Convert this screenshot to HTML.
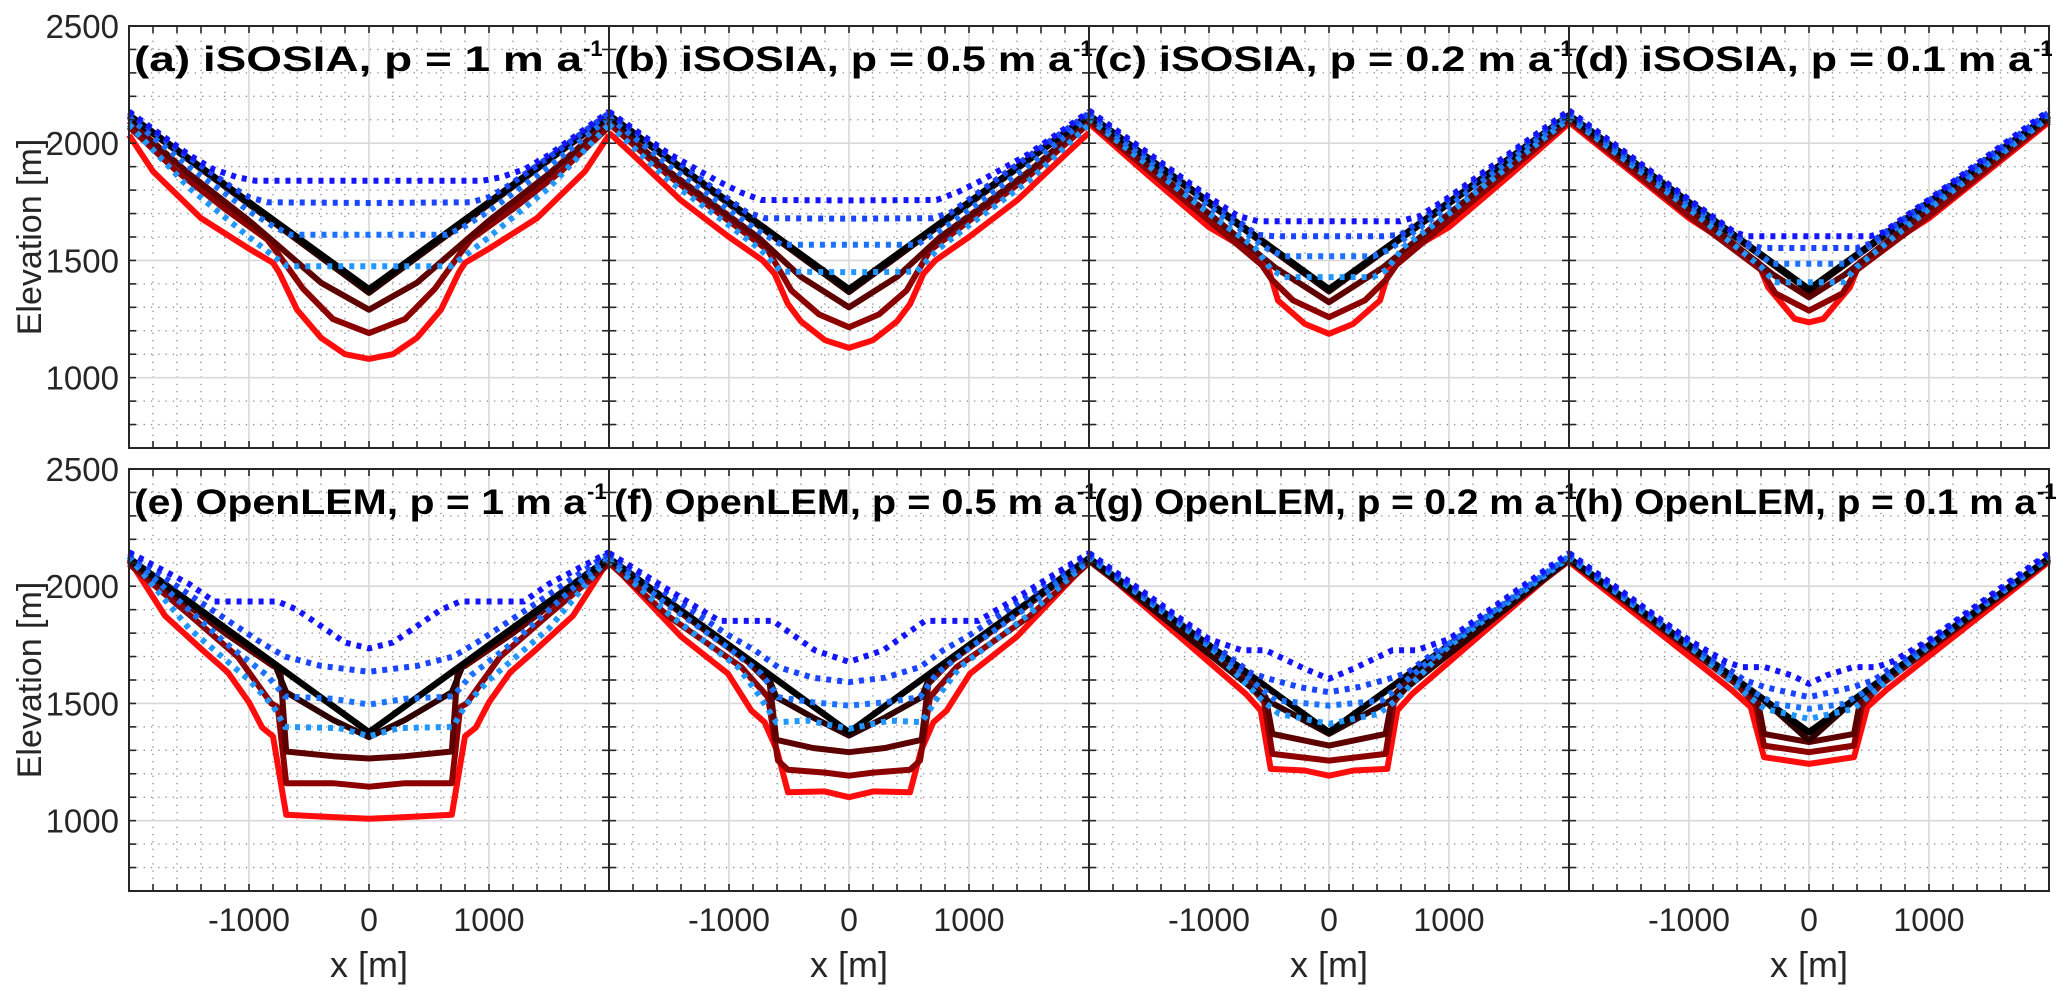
<!DOCTYPE html>
<html><head><meta charset="utf-8"><style>
html,body{margin:0;padding:0;background:#fff;}
svg{display:block;font-family:"Liberation Sans",Arial,sans-serif;}
</style></head><body>
<svg id="chart" width="2067" height="998" viewBox="0 0 2067 998" xmlns="http://www.w3.org/2000/svg"></svg>
<script>
// ---- data: half profiles [x (m), elevation (m)], mirrored about x=0 ----
const panelTitles = ["(a) iSOSIA, p = 1 m a","(b) iSOSIA, p = 0.5 m a","(c) iSOSIA, p = 0.2 m a","(d) iSOSIA, p = 0.1 m a",
  "(e) OpenLEM, p = 1 m a","(f) OpenLEM, p = 0.5 m a","(g) OpenLEM, p = 0.2 m a","(h) OpenLEM, p = 0.1 m a"];
const yTicks = [1000,1500,2000,2500];
const xTicks = [-1000,0,1000];
const blackLine = [[0,1377],[2000,2120]];

const A_s1=[[0,1362],[2000,2116]];
const A_s2=[[0,1290],[400,1405],[840,1600],[1000,1670],[1500,1870],[2000,2095]];
const A_s3=[[0,1190],[300,1250],[550,1380],[760,1530],[850,1590],[1200,1720],[1600,1880],[2000,2070]];
const A_red=[[0,1080],[200,1100],[400,1170],[600,1290],[750,1450],[800,1490],[1000,1550],[1400,1680],[1800,1880],[2000,2035]];
const A_d1=[[0,1840],[950,1840],[1100,1855],[1300,1890],[1500,1950],[2000,2135]];
const A_d2=[[0,1745],[850,1748],[1000,1770],[1150,1815],[1500,1940],[2000,2128]];
const A_d3=[[0,1610],[650,1610],[780,1640],[1000,1710],[1500,1900],[2000,2110]];
const A_d4=[[0,1475],[680,1475],[800,1520],[1000,1600],[1500,1810],[2000,2080]];

const B_s1=[[0,1365],[2000,2116]];
const B_s2=[[0,1300],[400,1430],[760,1600],[1000,1690],[1500,1880],[2000,2100]];
const B_s3=[[0,1215],[250,1270],[480,1372],[675,1543],[900,1630],[1500,1860],[2000,2085]];
const B_red=[[0,1127],[200,1160],[400,1240],[510,1315],[620,1443],[720,1500],[1000,1600],[1400,1756],[1800,1950],[2000,2045]];
const B_d1=[[0,1756],[730,1758],[900,1790],[1100,1840],[1500,1955],[2000,2135]];
const B_d2=[[0,1678],[700,1680],[850,1705],[1500,1945],[2000,2128]];
const B_d3=[[0,1567],[564,1567],[760,1628],[1000,1715],[1500,1905],[2000,2110]];
const B_d4=[[0,1450],[564,1452],[730,1543],[1000,1650],[1500,1840],[2000,2080]];

const C_s1=[[0,1368],[2000,2116]];
const C_s2=[[0,1322],[450,1470],[1000,1700],[2000,2105]];
const C_s3=[[0,1258],[300,1330],[480,1420],[560,1480],[1000,1670],[2000,2095]];
const C_red=[[0,1187],[200,1229],[425,1329],[508,1471],[620,1528],[1000,1642],[1500,1860],[2000,2085]];
const C_d1=[[0,1667],[590,1667],[760,1690],[1000,1770],[2000,2140]];
const C_d2=[[0,1603],[450,1603],[600,1610],[1000,1760],[2000,2132]];
const C_d3=[[0,1518],[370,1518],[500,1545],[1000,1730],[2000,2118]];
const C_d4=[[0,1429],[370,1429],[480,1460],[620,1557],[1000,1700],[2000,2105]];

const D_s1=[[0,1370],[2000,2117]];
const D_s2=[[0,1343],[300,1440],[1000,1720],[2000,2108]];
const D_s3=[[0,1286],[280,1360],[400,1460],[1000,1690],[2000,2100]];
const D_red=[[0,1236],[120,1251],[342,1386],[425,1493],[536,1528],[1000,1680],[2000,2090]];
const D_d1=[[0,1603],[508,1603],[620,1620],[1000,1760],[2000,2140]];
const D_d2=[[0,1553],[397,1553],[500,1570],[1000,1755],[2000,2132]];
const D_d3=[[0,1486],[314,1486],[420,1530],[1000,1740],[2000,2120]];
const D_d4=[[0,1407],[286,1407],[397,1471],[1000,1720],[2000,2110]];

const E_s1=[[0,1356],[300,1430],[690,1548],[786,1668],[2000,2115]];
const E_s2=[[0,1265],[300,1275],[690,1295],[740,1650],[800,1660],[1200,1800],[2000,2105]];
const E_s3=[[0,1145],[300,1160],[690,1160],[760,1484],[814,1500],[1092,1698],[1500,1880],[2000,2095]];
const E_red=[[0,1008],[300,1015],[690,1025],[800,1360],[890,1397],[1000,1505],[1175,1632],[1397,1732],[1700,1874],[1950,2074],[2000,2110]];
const E_d1=[[0,1735],[200,1760],[400,1830],[600,1900],[760,1935],[1290,1935],[1500,2010],[2000,2145]];
const E_d2=[[0,1635],[400,1660],[700,1700],[900,1760],[1400,1930],[2000,2140]];
const E_d3=[[0,1495],[300,1520],[700,1530],[850,1620],[1200,1760],[2000,2130]];
const E_d4=[[0,1360],[250,1395],[700,1400],[800,1490],[1000,1600],[1500,1820],[2000,2125]];

const F_s1=[[0,1363],[300,1440],[606,1527],[689,1634],[2000,2115]];
const F_s2=[[0,1292],[300,1310],[606,1345],[661,1584],[842,1677],[2000,2110]];
const F_s3=[[0,1192],[200,1205],[508,1217],[592,1256],[675,1527],[897,1655],[1500,1870],[2000,2100]];
const F_red=[[0,1100],[203,1125],[508,1121],[600,1299],[703,1420],[814,1470],[1008,1627],[1397,1784],[1967,2090],[2000,2110]];
const F_d1=[[0,1677],[286,1727],[633,1852],[1078,1852],[1300,1920],[2000,2142]];
const F_d2=[[0,1591],[300,1610],[592,1655],[786,1727],[1000,1790],[1500,1960],[2000,2135]];
const F_d3=[[0,1491],[300,1505],[592,1527],[730,1627],[1000,1735],[1500,1915],[2000,2122]];
const F_d4=[[0,1392],[342,1427],[606,1420],[758,1541],[925,1655],[1500,1880],[2000,2110]];

const G_s1=[[0,1370],[514,1513],[2000,2117]];
const G_s2=[[0,1320],[472,1370],[528,1527],[700,1620],[2000,2112]];
const G_s3=[[0,1256],[472,1285],[542,1506],[700,1600],[2000,2108]];
const G_red=[[0,1192],[203,1214],[486,1221],[569,1470],[694,1541],[1967,2104],[2000,2110]];
const G_d1=[[0,1605],[203,1648],[528,1727],[730,1727],[1000,1775],[2000,2142]];
const G_d2=[[0,1548],[250,1570],[500,1605],[650,1630],[1000,1765],[2000,2135]];
const G_d3=[[0,1491],[444,1513],[583,1570],[1000,1755],[2000,2128]];
const G_d4=[[0,1413],[417,1456],[556,1513],[1000,1745],[2000,2122]];

const H_s1=[[0,1342],[390,1520],[2000,2117]];
const H_s2=[[0,1335],[375,1370],[430,1520],[2000,2114]];
const H_s3=[[0,1292],[375,1320],[440,1490],[600,1580],[2000,2110]];
const H_red=[[0,1242],[375,1271],[486,1484],[650,1560],[2000,2105]];
const H_d1=[[0,1584],[147,1620],[370,1655],[564,1655],[700,1680],[1000,1770],[2000,2142]];
const H_d2=[[0,1527],[370,1570],[540,1600],[1000,1765],[2000,2135]];
const H_d3=[[0,1477],[286,1498],[450,1545],[1000,1755],[2000,2128]];
const H_d4=[[0,1434],[370,1477],[500,1530],[1000,1745],[2000,2122]];

const panelSolids = [
  [A_s1,A_s2,A_s3,A_red],[B_s1,B_s2,B_s3,B_red],[C_s1,C_s2,C_s3,C_red],[D_s1,D_s2,D_s3,D_red],
  [E_s1,E_s2,E_s3,E_red],[F_s1,F_s2,F_s3,F_red],[G_s1,G_s2,G_s3,G_red],[H_s1,H_s2,H_s3,H_red]];
const panelDotted = [
  [A_d1,A_d2,A_d3,A_d4],[B_d1,B_d2,B_d3,B_d4],[C_d1,C_d2,C_d3,C_d4],[D_d1,D_d2,D_d3,D_d4],
  [E_d1,E_d2,E_d3,E_d4],[F_d1,F_d2,F_d3,F_d4],[G_d1,G_d2,G_d3,G_d4],[H_d1,H_d2,H_d3,H_d4]];

// ---- layout ----
const NS="http://www.w3.org/2000/svg";
const svg=document.getElementById('chart');
const panelLeft=[129,609,1089,1569], panelW=480;
const rowTop=[26,469], panelH=422;
const XMIN=-2000,XMAX=2000,YMIN=700,YMAX=2500;
const solidColors=['#000000','#2e0000','#5c0000','#8c0000','#ff0d0d'];
const dotColors=['#1414ff','#1a45ff','#1c72ff','#2196ff'];
const titleWidth=[448,458,458,458,452,462,462,462];

function mk(tag,attrs,parent){const e=document.createElementNS(NS,tag);for(const k in attrs)e.setAttribute(k,attrs[k]);(parent||svg).appendChild(e);return e;}

for(let p=0;p<8;p++){
  const col=p%4,row=Math.floor(p/4);
  const L=panelLeft[col],T=rowTop[row];
  const sx=x=>L+(x-XMIN)/(XMAX-XMIN)*panelW;
  const sy=y=>T+(YMAX-y)/(YMAX-YMIN)*panelH;
  const g=mk('g',{});
  
  
  for(let x=-1800;x<=1800;x+=200){ if(x%1000===0)continue;
    const l=mk('line',{x1:sx(x),x2:sx(x),y1:T,y2:T+panelH,stroke:'#8a8a8a','stroke-width':1.3,'stroke-dasharray':'1.3 6'},g);
     }
  for(let y=800;y<2500;y+=100){ if(y%500===0)continue;
    const l=mk('line',{x1:L,x2:L+panelW,y1:sy(y),y2:sy(y),stroke:'#8a8a8a','stroke-width':1.3,'stroke-dasharray':'1.3 6'},g);
     }
  for(const x of xTicks){const l=mk('line',{x1:sx(x),x2:sx(x),y1:T,y2:T+panelH,stroke:'#d8d8d8','stroke-width':1.6},g);
     }
  for(const y of yTicks){const l=mk('line',{x1:L,x2:L+panelW,y1:sy(y),y2:sy(y),stroke:'#d8d8d8','stroke-width':1.6},g);
     }
  const mirror=pts=>{const a=pts.slice().sort((u,v)=>u[0]-v[0]);const left=a.filter(q=>q[0]>0).map(q=>[-q[0],q[1]]).reverse();return left.concat(a);};
  const pathOf=pts=>mirror(pts).map((q,i)=>(i?'L':'M')+sx(q[0]).toFixed(1)+','+sy(q[1]).toFixed(1)).join('');
  const solids=[blackLine].concat(panelSolids[p]);
  for(let i=solids.length-1;i>=0;i--){
    const s=mk('path',{d:pathOf(solids[i]),fill:'none',stroke:solidColors[i],'stroke-width':i===0?6.5:6,'stroke-linejoin':'round'},g);
     
  }
  const dots=panelDotted[p];
  for(let i=dots.length-1;i>=0;i--){
    const s=mk('path',{d:pathOf(dots[i]),fill:'none',stroke:dotColors[i],'stroke-width':6,'stroke-dasharray':'5 6'},g);
     
  }
  for(let x=-1800;x<=1800;x+=200){
    mk('line',{x1:sx(x),x2:sx(x),y1:T+panelH,y2:T+panelH-7,stroke:'#262626','stroke-width':1.6},g);
    mk('line',{x1:sx(x),x2:sx(x),y1:T,y2:T+7,stroke:'#262626','stroke-width':1.6},g);}
  for(let y=800;y<2500;y+=100){
    mk('line',{x1:L,x2:L+7,y1:sy(y),y2:sy(y),stroke:'#262626','stroke-width':1.6},g);
    mk('line',{x1:L+panelW,x2:L+panelW-7,y1:sy(y),y2:sy(y),stroke:'#262626','stroke-width':1.6},g);}
  const box=mk('rect',{x:L,y:T,width:panelW,height:panelH,fill:'none',stroke:'#262626','stroke-width':2},g);
   
  // title: main text fitted to reference width, superscript separate
  const t=mk('text',{x:L+5,y:T+45,'font-size':35,'font-weight':'bold',fill:'#000',textLength:titleWidth[p],lengthAdjust:'spacingAndGlyphs'},g);
   
  t.textContent=panelTitles[p];
  const sup=mk('text',{x:L+5+titleWidth[p]+1,y:T+30,'font-size':22,'font-weight':'bold',fill:'#000'},g);
   
  sup.textContent='-1';
  if(col===0){
    for(const y of yTicks){const tl=mk('text',{x:L-10,y:sy(y)+12,'font-size':33,fill:'#262626','text-anchor':'end'},g);
        tl.textContent=y;}
    const yl=mk('text',{x:0,y:0,'font-size':34,fill:'#262626','text-anchor':'middle',transform:'translate(41,'+sy(1600)+') rotate(-90)'},g);
      yl.textContent='Elevation [m]';
  }
  if(row===1){
    for(const x of xTicks){const tl=mk('text',{x:sx(x),y:931,'font-size':32,fill:'#262626','text-anchor':'middle'},g);
        tl.textContent=x;}
    const xl=mk('text',{x:sx(0),y:977,'font-size':36,fill:'#262626','text-anchor':'middle'},g);
      xl.textContent='x [m]';
  }
}
</script>
</body></html>
